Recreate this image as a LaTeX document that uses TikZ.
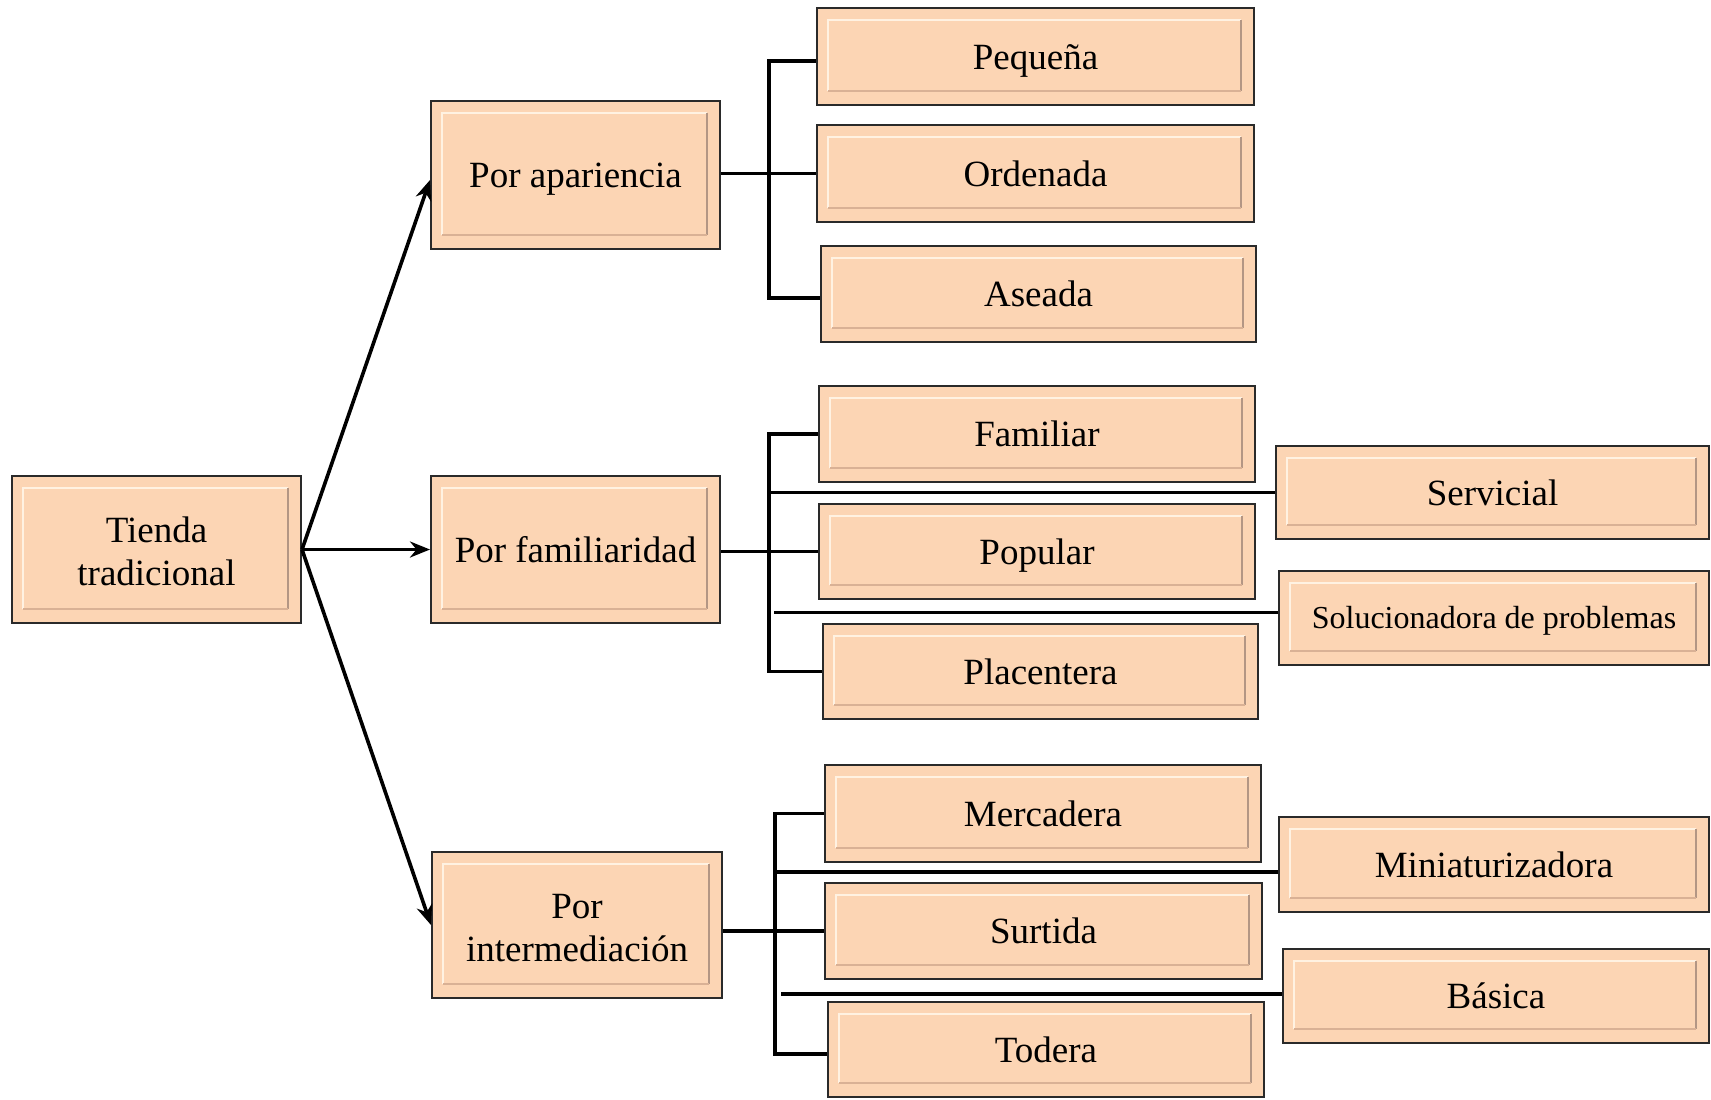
\documentclass[tikz,border=0pt]{standalone}
\usepackage{fontspec}
\setmainfont{Liberation Serif}
\usetikzlibrary{arrows.meta}
\definecolor{boxfill}{HTML}{FCD5B4}
\definecolor{boxedge}{HTML}{2A2A2A}
\definecolor{bevlightc}{HTML}{FFF2E2}
\definecolor{bevsidec}{HTML}{B39684}
\definecolor{bevbottomc}{HTML}{D9B195}

\tikzset{
  bevbox/.style={draw=boxedge, line width=1pt, fill=boxfill, inner sep=0pt,
    align=center, font=\fontsize{18.5}{21.5}\selectfont},
  oneline/.style={text height=16.5pt, text depth=4pt},
  smalltext/.style={font=\fontsize{16}{19}\selectfont, text height=14.3pt, text depth=3.5pt},
  bevlight/.style={draw=bevlightc, line width=1.2pt},
  bevright/.style={draw=bevsidec, line width=0.9pt},
  bevbottom/.style={draw=bevbottomc, line width=1pt},
  link/.style={draw=black, line width=1.8pt},
  branch/.style={draw=black, line width=1.8pt, -{Stealth[length=10pt,width=8pt]}},
}

% bevelled box: name, x1, y1, x2, y2, extra style, text
\newcommand\bevelbox[7]{%
  \pgfmathsetmacro\bxw{(#4-#2)*0.5}%
  \pgfmathsetmacro\bxh{(#5-#3)*0.5}%
  \node[bevbox, minimum width=\bxw pt, minimum height=\bxh pt, #6] (#1)
    at ({(#2+#4)/2},{(#3+#5)/2}) {#7};
  \draw[bevlight] ([shift={(6pt,7.5pt)}]#1.south west) |- ([shift={(-7pt,-6.5pt)}]#1.north east);
  \draw[bevright] ([shift={(-7pt,-6.5pt)}]#1.north east) -- ([shift={(-7pt,7.5pt)}]#1.south east);
  \draw[bevbottom] ([shift={(-7pt,7.5pt)}]#1.south east) -- ([shift={(6pt,7.5pt)}]#1.south west);
}

\begin{document}
\begin{tikzpicture}[x=0.5pt,y=-0.5pt]
\useasboundingbox (0,0) rectangle (1711,1099);

% root and first level
\bevelbox{tt}{12}{476}{301}{623}{}{\rule{0pt}{15pt}Tienda\\tradicional}
\bevelbox{pa}{431}{101}{720}{249}{oneline}{Por apariencia}
\bevelbox{pf}{431}{476}{720}{623}{oneline}{Por familiaridad}
\bevelbox{pi}{432}{852}{722}{998}{}{\rule{0pt}{15pt}Por\\intermediación}

% appearance group
\bevelbox{peq}{817}{8}{1254}{105}{oneline}{Pequeña}
\bevelbox{ord}{817}{125}{1254}{222}{oneline}{Ordenada}
\bevelbox{ase}{821}{246}{1256}{342}{oneline}{Aseada}

% familiarity group
\bevelbox{fam}{819}{386}{1255}{482}{oneline}{Familiar}
\bevelbox{pop}{819}{504}{1255}{599}{oneline}{Popular}
\bevelbox{pla}{823}{624}{1258}{719}{oneline}{Placentera}
\bevelbox{ser}{1276}{446}{1709}{539}{oneline}{Servicial}
\bevelbox{sol}{1279}{571}{1709}{665}{smalltext}{Solucionadora de problemas}

% intermediation group
\bevelbox{mer}{825}{765}{1261}{862}{oneline}{Mercadera}
\bevelbox{sur}{825}{883}{1262}{979}{oneline}{Surtida}
\bevelbox{tod}{828}{1002}{1264}{1097}{oneline}{Todera}
\bevelbox{min}{1279}{817}{1709}{912}{oneline}{Miniaturizadora}
\bevelbox{bas}{1283}{949}{1709}{1043}{oneline}{Básica}

% branches from the root
\draw[branch] (tt.east) -- ([yshift=-2.5pt]pa.west);
\draw[branch] (tt.east) -- (pf.west);
\draw[branch] (tt.east) -- (pi.west);

% appearance connectors
\draw[link] ([yshift=-2.25pt]peq.west) -- ++(-47,0) |- ([yshift=-2pt]ase.west);
\draw[link] (ord.west) -- (ord.west -| pa.east);

% familiarity connectors
\draw[link] (fam.west) -- ++(-49,0) |- (pla.west);
\draw[link] (pop.west) -- (pop.west -| pf.east);
\draw[link] (ser.west) -- ++(-506,0);
\draw[link] ([yshift=2.75pt]sol.west) -- ++(-504,0);

% intermediation connectors
\draw[link] (mer.west) -- ++(-49,0) |- ([yshift=-2.25pt]tod.west);
\draw[link] (sur.west) -- (sur.west -| pi.east);
\draw[link] ([yshift=-3.75pt]min.west) -- ++(-503,0);
\draw[link] ([yshift=1pt]bas.west) -- ++(-501,0);
\end{tikzpicture}
\end{document}
